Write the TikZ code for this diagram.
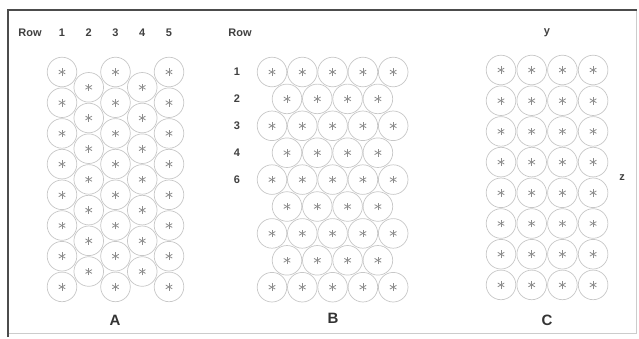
\documentclass[tikz,border=0pt]{standalone}
\usepackage{fontspec}
\setmainfont{Liberation Sans}
\usepackage{tikz}
\usetikzlibrary{positioning}

\begin{document}
\begin{tikzpicture}[
  x=1pt, y=-1pt,
  lab/.style={font=\bfseries\fontsize{11}{13}\selectfont, text=black!75, inner sep=0pt},
  big/.style={font=\bfseries\fontsize{15}{18}\selectfont, text=black!80, inner sep=0pt},
  rim/.style={draw=black!22, line width=0.7pt},
  ray/.style={draw=black!45, line width=0.8pt},
  cell/.pic={
    \draw[rim] (0,0) circle[radius=14.8];
    \foreach \a in {30,90,150} \draw[ray] (\a:3.8) -- (\a+180:3.8);
  },
]
\useasboundingbox (0,0) rectangle (639,338);
% frame
\draw[black!20, line width=0.8pt] (636,10) -- (636,333) -- (8,333);
\draw[black!70, line width=2pt] (8,337) -- (8,10) -- (637,10);

% A: staggered columns
\node[lab] (rowA) at (30,33) {Row};
\foreach \i in {1,...,5} {
  \pgfmathsetmacro\cx{62+(\i-1)*26.75}
  \node[lab] (colA\i) at (\cx,33) {\i};
  \ifodd\i
    \foreach \j in {0,...,7} \pic at (\cx,{72+\j*30.7}) {cell};
  \else
    \foreach \j in {0,...,6} \pic at (\cx,{87.3+\j*30.7}) {cell};
  \fi
}
\node[big] (labA) at (115,320) {A};

% B: staggered rows
\node[lab] (rowB) at (240,33) {Row};
\foreach \r/\t in {1/1,2/2,3/3,4/4,5/6}
  \node[lab] (rowB\r) at (237,{72+(\r-1)*26.9}) {\t};
\foreach \r in {1,...,9} {
  \pgfmathsetmacro\cy{72+(\r-1)*26.9}
  \ifodd\r
    \foreach \k in {0,...,4} \pic at ({272+\k*30.3},\cy) {cell};
  \else
    \foreach \k in {0,...,3} \pic at ({287+\k*30.3},\cy) {cell};
  \fi
}
\node[big] (labB) at (333,318) {B};

% C: square grid
\node[lab] (axY) at (547,33) {y};
\node[lab] (axZ) at (622,178) {z};
\foreach \k in {0,...,3}
  \foreach \j in {0,...,7}
    \pic at ({501+\k*30.7},{70+\j*30.7}) {cell};
\node[big] (labC) at (547,320) {C};
\end{tikzpicture}
\end{document}
